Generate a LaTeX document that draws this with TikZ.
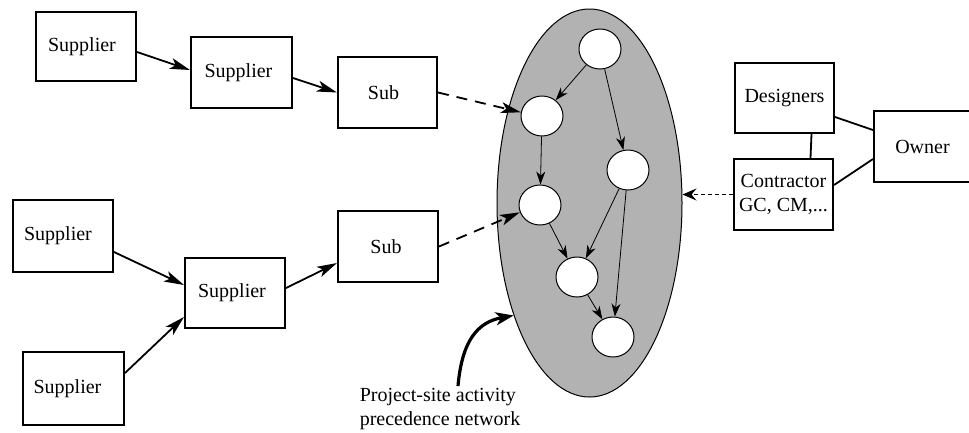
\documentclass[tikz,border=0pt]{standalone}
\usepackage{fontspec}
\setmainfont{Liberation Serif}
\usetikzlibrary{arrows.meta,shapes.geometric}

\tikzset{
  box/.style={draw, line width=2pt, rectangle, inner sep=0pt,
    minimum width=100pt, minimum height=71pt, align=center},
  net/.style={draw, line width=1pt, ellipse, fill=gray!60,
    minimum width=185pt, minimum height=388pt, inner sep=0pt},
  act/.style={draw, line width=1pt, ellipse, fill=white,
    minimum width=42pt, minimum height=40pt, inner sep=0pt},
  flow/.style={line width=1.8pt, -{Stealth[length=20pt,width=11pt,inset=5pt]}},
  feed/.style={flow, dash pattern=on 11pt off 8pt},
  prec/.style={line width=0.8pt, -{Stealth[length=13pt,width=9pt,inset=4pt]}},
  link/.style={line width=1.8pt},
}

\begin{document}
\begin{tikzpicture}[x=1pt, y=-1pt, font=\fontsize{20}{24}\selectfont]
\useasboundingbox (0,0) rectangle (969,432);

% supply chains
\node[box, minimum width=100pt, minimum height=69pt] (s1) at (86,46.5) {Supplier\hspace{8pt}};
\node[box, minimum width=101pt] (s2) at (241.5,72.5) {Supplier\hspace{6pt}};
\node[box, minimum width=99pt] (sub1) at (387.5,92.5) {Sub\hspace{8pt}};
\node[box, minimum height=72pt] (s3) at (63,236) {Supplier\hspace{10pt}};
\node[box, minimum height=70pt] (s4) at (235,293) {Supplier\hspace{6pt}};
\node[box, minimum width=101pt, minimum height=73pt] (s5) at (73.5,388.5) {Supplier\hspace{12pt}};
\node[box] (sub2) at (388,246.5) {Sub\hspace{4pt}};

% project-site network
\node[net] (net) at (589.5,203) {};
\node[act] (c1) at (600,49) {};
\node[act] (c2) at (542,116) {};
\node[act] (c3) at (628,170) {};
\node[act] (c4) at (540,205) {};
\node[act] (c5) at (577,277) {};
\node[act] (c6) at (613,337) {};

% owner side
\node[box, minimum width=99pt, minimum height=70pt] (des) at (784.5,98) {Designers};
\node[box, minimum width=99pt] (con) at (783.5,194.5) {Contractor\\GC, CM,...};
\node[box, minimum width=97pt] (own) at (922.5,146.5) {Owner};

\node[align=left, inner sep=0pt] (lbl) at (440,409) {Project-site activity\\precedence network};

% supply flows
\draw[flow] ([yshift=-5.5pt]s1.east) -- ([yshift=2.5pt]s2.west);
\draw[flow] ([yshift=-5.5pt]s2.east) -- (sub1.west);
\draw[flow] ([yshift=-16pt]s3.east) -- ([yshift=8pt]s4.west);
\draw[flow] ([yshift=15.5pt]s5.east) -- ([yshift=-24pt]s4.west);
\draw[flow] ([yshift=5pt]s4.east) -- ([yshift=-16.5pt]sub2.west);

% subcontractor work feeding the site network
\draw[feed] (sub1.east) -- (c2.170);
\draw[feed] (sub2.east) -- (c4.200);

% precedence arcs
\draw[prec] (c1) -- (c2);
\draw[prec] (c1) -- (c3);
\draw[prec] (c2) -- (c4);
\draw[prec] (c3) -- (c5);
\draw[prec] (c3) -- (c6);
\draw[prec] (c4) -- (c5);
\draw[prec] (c5) -- (c6);

% owner, designers and contractor
\draw[link] ([xshift=27pt]des.south) -- ([xshift=27pt]con.north);
\draw[link] ([yshift=-19pt]des.east) -- ([yshift=16.5pt]own.west);
\draw[link] ([yshift=9.5pt]con.east) -- ([yshift=-12.5pt]own.west);
\draw[line width=1.3pt, dash pattern=on 4pt off 3pt,
      -{Stealth[length=14pt,width=12pt,inset=5pt]}]
  (con.west) -- (con.west -| net.east);

% label pointer
\draw[line width=3.2pt, -{Stealth[length=18pt,width=13pt,inset=5pt]}]
  ([xshift=18pt,yshift=2pt]lbl.north) .. controls (462,340) and (478,322) .. (net.236);
\end{tikzpicture}
\end{document}
